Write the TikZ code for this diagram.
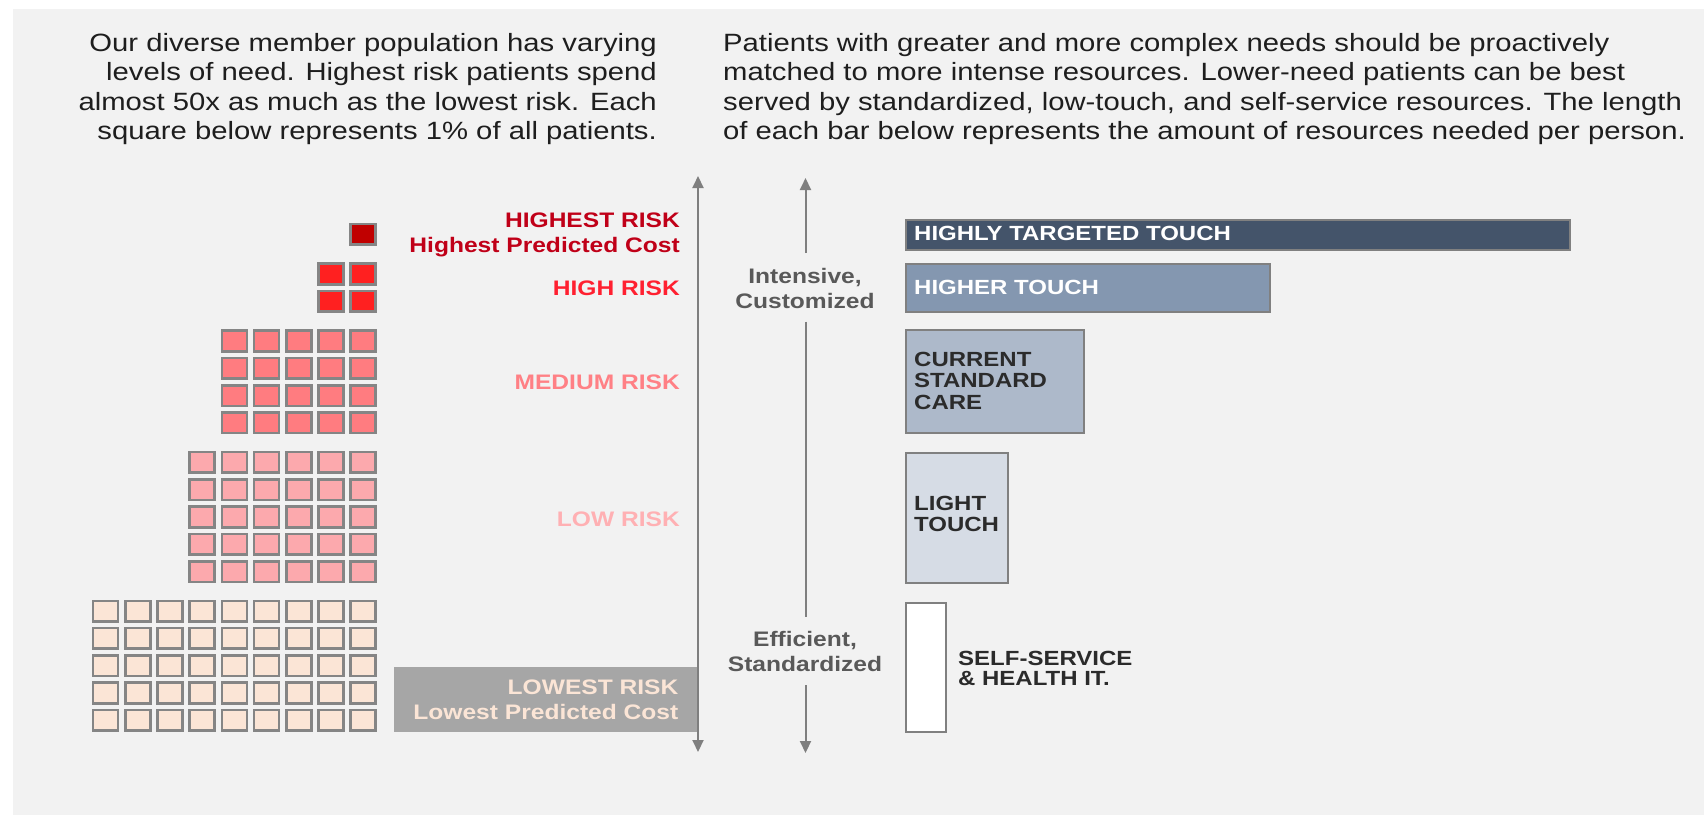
\documentclass[tikz,border=0pt]{standalone}
\usepackage{fontspec}
\setmainfont{Liberation Sans}[FakeStretch=1.17]
\usetikzlibrary{arrows.meta}
\definecolor{bgc}{HTML}{F2F2F2}
\definecolor{paratext}{HTML}{1E1E1E}
\definecolor{sqborder}{HTML}{858585}
\definecolor{cHighest}{HTML}{C00000}
\definecolor{cHigh}{HTML}{FF2020}
\definecolor{cMed}{HTML}{FF7C80}
\definecolor{cLow}{HTML}{FCA9AD}
\definecolor{cLowest}{HTML}{FBE5D6}
\definecolor{tHighest}{HTML}{C00018}
\definecolor{tHigh}{HTML}{FF2030}
\definecolor{tMed}{HTML}{FF8085}
\definecolor{tLow}{HTML}{FFB0B3}
\definecolor{tLowest}{HTML}{FBE5D6}
\definecolor{lowbox}{HTML}{A6A6A6}
\definecolor{axisc}{HTML}{7F7F7F}
\definecolor{midtextc}{HTML}{595959}
\definecolor{barone}{HTML}{44546A}
\definecolor{bartwo}{HTML}{8497B0}
\definecolor{barthree}{HTML}{ADB9CA}
\definecolor{barfour}{HTML}{D6DCE5}
\definecolor{barfive}{HTML}{FFFFFF}
\definecolor{barborder}{HTML}{808080}
\definecolor{bardark}{HTML}{2B2B2B}
\tikzset{
  para/.style={inner sep=0pt, font=\fontsize{25}{29}\selectfont, text=paratext},
  lbl/.style={inner sep=0pt, font=\fontsize{21}{21}\selectfont\bfseries, anchor=base east},
  sq/.style={draw=sqborder, line width=2.6pt},
  barbox/.style={draw=barborder, line width=2pt, inner sep=0pt, anchor=north west},
  bartext/.style={inner sep=0pt, font=\fontsize{20.5}{21}\selectfont\bfseries, anchor=base west},
  midlbl/.style={inner sep=0pt, font=\fontsize{21}{24}\selectfont\bfseries, text=midtextc, anchor=base},
  axisline/.style={draw=axisc, line width=2pt},
  tiphead/.style={-{Triangle[width=11pt,length=12pt]}},
}
\begin{document}
\begin{tikzpicture}[x=1pt,y=-1pt]
\useasboundingbox (0,0) rectangle (1704,815);
\fill[white] (0,0) rectangle (1704,815);
\fill[bgc] (13,9) rectangle (1704,815);

% left paragraph
\node[para, anchor=base east] (lp1) at (657,51.5) {Our diverse member population has varying};
\node[para, anchor=base east] (lp2) at (657,80.8) {levels of need. Highest risk patients spend};
\node[para, anchor=base east] (lp3) at (657,110.1) {almost 50x as much as the lowest risk. Each};
\node[para, anchor=base east] (lp4) at (657,139.4) {square below represents 1\% of all patients.};

% right paragraph
\node[para, anchor=base west] (rp1) at (723,51.5) {Patients with greater and more complex needs should be proactively};
\node[para, anchor=base west] (rp2) at (723,80.8) {matched to more intense resources. Lower-need patients can be best};
\node[para, anchor=base west] (rp3) at (723,110.1) {served by standardized, low-touch, and self-service resources. The length};
\node[para, anchor=base west] (rp4) at (723,139.4) {of each bar below represents the amount of resources needed per person.};

% squares
\foreach \c in {0} \foreach \r in {0}
  \draw[sq, fill=cHighest] ({350.7-32.2*\c},{224+27.3*\r}) rectangle ++(25,20.6);
\foreach \c in {0,1} \foreach \r in {0,1}
  \draw[sq, fill=cHigh] ({350.7-32.2*\c},{263.7+27.3*\r}) rectangle ++(25,20.6);
\foreach \c in {0,...,4} \foreach \r in {0,...,3}
  \draw[sq, fill=cMed] ({350.7-32.2*\c},{330.6+27.3*\r}) rectangle ++(25,20.6);
\foreach \c in {0,...,5} \foreach \r in {0,...,4}
  \draw[sq, fill=cLow] ({350.7-32.2*\c},{452+27.3*\r}) rectangle ++(25,20.6);
\foreach \c in {0,...,8} \foreach \r in {0,...,4}
  \draw[sq, fill=cLowest] ({350.7-32.2*\c},{600.8+27.3*\r}) rectangle ++(25,20.6);

% lowest risk box
\node[fill=lowbox, inner sep=0pt, anchor=north west, minimum width=304pt, minimum height=65pt] (lbox) at (394,666.7) {};

% risk labels
\node[lbl, text=tHighest] (l1) at (680,227.5) {HIGHEST RISK};
\node[lbl, text=tHighest] (l1b) at (680,252.5) {Highest Predicted Cost};
\node[lbl, text=tHigh] (l2) at (680,295.5) {HIGH RISK};
\node[lbl, text=tMed] (l3) at (680,389) {MEDIUM RISK};
\node[lbl, text=tLow] (l4) at (680,526.5) {LOW RISK};
\node[lbl, text=tLowest] (l5) at (678.5,694) {LOWEST RISK};
\node[lbl, text=tLowest] (l5b) at (678.5,719) {Lowest Predicted Cost};

% left axis
\coordinate (latop) at (698,176);
\coordinate (labot) at (698,752);
\draw[axisline, {Triangle[width=11pt,length=12pt]}-{Triangle[width=11pt,length=12pt]}] (labot) -- (latop);

% middle axis
\coordinate (matop) at (805.5,178);
\coordinate (ma2) at (805.5,253);
\coordinate (ma3) at (805.5,321.7);
\coordinate (ma4) at (805.5,616.7);
\coordinate (ma5) at (805.5,685);
\coordinate (mabot) at (805.5,753);
\draw[axisline, tiphead] (ma2) -- (matop);
\draw[axisline] (ma3) -- (ma4);
\draw[axisline, tiphead] (ma5) -- (mabot);
\node[midlbl] (m1) at (805,283.5) {Intensive,};
\node[midlbl] (m2) at (805,308) {Customized};
\node[midlbl] (m3) at (805,646.5) {Efficient,};
\node[midlbl] (m4) at (805,671.5) {Standardized};

% bars
\node[barbox, fill=barone, minimum width=664pt, minimum height=30pt] (b1) at (904.5,218.7) {};
\node[barbox, fill=bartwo, minimum width=364pt, minimum height=48pt] (b2) at (904.5,262.7) {};
\node[barbox, fill=barthree, minimum width=178.5pt, minimum height=103pt] (b3) at (904.5,329.3) {};
\node[barbox, fill=barfour, minimum width=102.5pt, minimum height=129.7pt] (b4) at (904.5,452) {};
\node[barbox, fill=barfive, minimum width=40.5pt, minimum height=129pt] (b5) at (904.5,601.7) {};

% bar texts
\node[bartext, text=white] (t1) at (914,240.8) {HIGHLY TARGETED TOUCH};
\node[bartext, text=white] (t2) at (914,294) {HIGHER TOUCH};
\node[bartext, text=bardark] (t3a) at (914,366.5) {CURRENT};
\node[bartext, text=bardark] (t3b) at (914,387.5) {STANDARD};
\node[bartext, text=bardark] (t3c) at (914,409) {CARE};
\node[bartext, text=bardark] (t4a) at (914,510) {LIGHT};
\node[bartext, text=bardark] (t4b) at (914,531) {TOUCH};
\node[bartext, text=bardark] (t5a) at (958,665.8) {SELF-SERVICE};
\node[bartext, text=bardark] (t5b) at (958,685.8) {\& HEALTH IT.};
\end{tikzpicture}
\end{document}
